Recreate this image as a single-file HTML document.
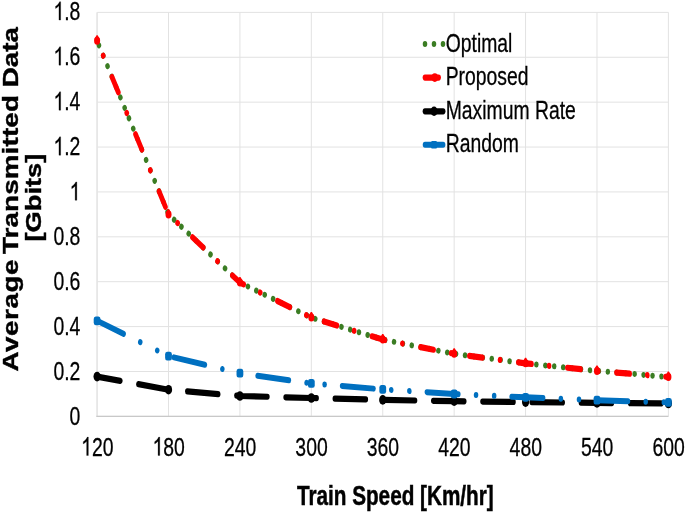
<!DOCTYPE html><html><head><meta charset="utf-8"><style>html,body{margin:0;padding:0;background:#fff}svg{display:block}text{font-family:"Liberation Sans",sans-serif}</style></head><body>
<svg width="685" height="513" viewBox="0 0 685 513">
<rect width="685" height="513" fill="#fff"/>
<path d="M97.10 12.40H668.40M97.10 57.28H668.40M97.10 102.17H668.40M97.10 147.05H668.40M97.10 191.93H668.40M97.10 236.82H668.40M97.10 281.70H668.40M97.10 326.58H668.40M97.10 371.47H668.40M97.10 416.35H668.40M97.10 12.40V416.35M168.51 12.40V416.35M239.92 12.40V416.35M311.34 12.40V416.35M382.75 12.40V416.35M454.16 12.40V416.35M525.57 12.40V416.35M596.99 12.40V416.35M668.40 12.40V416.35" stroke="#E2E2E2" stroke-width="1" fill="none"/>
<path d="M97.10 12.40V416.35" stroke="#E6E6E6" stroke-width="1.5" fill="none"/>
<path d="M96.30 416.35H668.40" stroke="#C8C8C8" stroke-width="1.1" fill="none"/>
<g transform="scale(0.755,1)">
<path d="M128.61 40.80 L223.20 214.40 L317.78 282.60 L412.37 317.60 L506.95 339.60 L601.54 353.80 L696.13 363.30 L790.71 370.90 L885.30 377.00" fill="none" stroke="#3B7D23" stroke-width="6.0" stroke-linecap="round" stroke-linejoin="round" stroke-dasharray="0.01 11.86" stroke-dashoffset="6.77"/>
<path d="M128.61 40.80 L223.20 214.40 L317.78 282.60 L412.37 317.60 L506.95 339.60 L601.54 353.80 L696.13 363.30 L790.71 370.90 L885.30 377.00" fill="none" stroke="#FF0000" stroke-width="6.2" stroke-linecap="round" stroke-linejoin="round" stroke-dasharray="17.5 23.4 0.01 24.3" stroke-dashoffset="24.0"/>
<circle cx="128.61" cy="40.80" r="4.0" fill="#FF0000"/>
<circle cx="223.20" cy="214.40" r="4.0" fill="#FF0000"/>
<circle cx="317.78" cy="282.60" r="4.0" fill="#FF0000"/>
<circle cx="412.37" cy="317.60" r="4.0" fill="#FF0000"/>
<circle cx="506.95" cy="339.60" r="4.0" fill="#FF0000"/>
<circle cx="601.54" cy="353.80" r="4.0" fill="#FF0000"/>
<circle cx="696.13" cy="363.30" r="4.0" fill="#FF0000"/>
<circle cx="790.71" cy="370.90" r="4.0" fill="#FF0000"/>
<circle cx="885.30" cy="377.00" r="4.0" fill="#FF0000"/>
<path d="M127.81 35.30 h1.6 l2.8 4 h-7.2 z" fill="#FF0000"/>
<path d="M222.40 208.90 h1.6 l2.8 4 h-7.2 z" fill="#FF0000"/>
<path d="M316.98 277.10 h1.6 l2.8 4 h-7.2 z" fill="#FF0000"/>
<path d="M411.57 312.10 h1.6 l2.8 4 h-7.2 z" fill="#FF0000"/>
<path d="M506.15 334.10 h1.6 l2.8 4 h-7.2 z" fill="#FF0000"/>
<path d="M600.74 348.30 h1.6 l2.8 4 h-7.2 z" fill="#FF0000"/>
<path d="M695.33 357.80 h1.6 l2.8 4 h-7.2 z" fill="#FF0000"/>
<path d="M789.91 365.40 h1.6 l2.8 4 h-7.2 z" fill="#FF0000"/>
<path d="M884.50 371.50 h1.6 l2.8 4 h-7.2 z" fill="#FF0000"/>
<path d="M128.61 376.60 L223.20 389.70 L317.78 396.00 L412.37 398.00 L506.95 399.90 L601.54 401.20 L696.13 402.10 L790.71 402.90 L885.30 403.50" fill="none" stroke="#000000" stroke-width="6.2" stroke-linecap="round" stroke-linejoin="round" stroke-dasharray="40.9 24.3" stroke-dashoffset="9.9"/>
<circle cx="128.61" cy="376.60" r="4.8" fill="#000000"/>
<circle cx="223.20" cy="389.70" r="4.8" fill="#000000"/>
<circle cx="317.78" cy="396.00" r="4.8" fill="#000000"/>
<circle cx="412.37" cy="398.00" r="4.8" fill="#000000"/>
<circle cx="506.95" cy="399.90" r="4.8" fill="#000000"/>
<circle cx="601.54" cy="401.20" r="4.8" fill="#000000"/>
<circle cx="696.13" cy="402.10" r="4.8" fill="#000000"/>
<circle cx="790.71" cy="402.90" r="4.8" fill="#000000"/>
<circle cx="885.30" cy="403.50" r="4.8" fill="#000000"/>
<path d="M128.61 320.80 L223.20 356.10 L317.78 373.20 L412.37 383.40 L506.95 389.40 L601.54 394.00 L696.13 397.30 L790.71 400.20 L885.30 402.40" fill="none" stroke="#0070C0" stroke-width="6.0" stroke-linecap="round" stroke-linejoin="round" stroke-dasharray="41.7 23.5 0.01 24 0.01 23.2" stroke-dashoffset="4.2"/>
<rect x="124.11" y="316.40" width="9" height="8.8" rx="2.6" fill="#0070C0"/>
<rect x="218.70" y="351.70" width="9" height="8.8" rx="2.6" fill="#0070C0"/>
<rect x="313.28" y="368.80" width="9" height="8.8" rx="2.6" fill="#0070C0"/>
<rect x="407.87" y="379.00" width="9" height="8.8" rx="2.6" fill="#0070C0"/>
<rect x="502.45" y="385.00" width="9" height="8.8" rx="2.6" fill="#0070C0"/>
<rect x="597.04" y="389.60" width="9" height="8.8" rx="2.6" fill="#0070C0"/>
<rect x="691.63" y="392.90" width="9" height="8.8" rx="2.6" fill="#0070C0"/>
<rect x="786.21" y="395.80" width="9" height="8.8" rx="2.6" fill="#0070C0"/>
<rect x="880.80" y="398.00" width="9" height="8.8" rx="2.6" fill="#0070C0"/>
<path d="M562.91 43.90H586.91" fill="none" stroke="#3B7D23" stroke-width="6.0" stroke-linecap="round" stroke-dasharray="0.01 11.9"/>
<path d="M562.91 77.60H586.91" fill="none" stroke="#FF0000" stroke-width="6.2" stroke-linecap="round" stroke-dasharray="18 23.7 0.01 23.7"/>
<circle cx="575.91" cy="77.6" r="4.3" fill="#FF0000"/>
<path d="M562.91 111.30H586.91" fill="none" stroke="#000000" stroke-width="6.2" stroke-linecap="round" stroke-dasharray="36 30"/>
<circle cx="574.91" cy="111.3" r="4.7" fill="#000000"/>
<path d="M562.91 144.70H586.91" fill="none" stroke="#0070C0" stroke-width="6.0" stroke-linecap="round" stroke-dasharray="37 24.5 0.01 24 0.01 24.5"/>
<rect x="570.91" y="140.90" width="8" height="7.6" rx="1.5" fill="#0070C0"/>
</g>
<g style="opacity:0.999">
<path transform="translate(53.43,20.10) scale(0.00948,-0.01250)" d="M763 0H583V1147Q518 1085 412.5 1023T223 930V1104Q374 1175 487 1276T647 1472H763Z" fill="#000" stroke="#000" stroke-width="24.0"/>
<text transform="translate(64.22,20.10) scale(0.758,1)" font-size="25.6" stroke="#000" stroke-width="0.3">.8</text>
<path transform="translate(53.43,65.15) scale(0.00948,-0.01250)" d="M763 0H583V1147Q518 1085 412.5 1023T223 930V1104Q374 1175 487 1276T647 1472H763Z" fill="#000" stroke="#000" stroke-width="24.0"/>
<text transform="translate(64.22,65.15) scale(0.758,1)" font-size="25.6" stroke="#000" stroke-width="0.3">.6</text>
<path transform="translate(53.43,110.21) scale(0.00948,-0.01250)" d="M763 0H583V1147Q518 1085 412.5 1023T223 930V1104Q374 1175 487 1276T647 1472H763Z" fill="#000" stroke="#000" stroke-width="24.0"/>
<text transform="translate(64.22,110.21) scale(0.758,1)" font-size="25.6" stroke="#000" stroke-width="0.3">.4</text>
<path transform="translate(53.43,155.26) scale(0.00948,-0.01250)" d="M763 0H583V1147Q518 1085 412.5 1023T223 930V1104Q374 1175 487 1276T647 1472H763Z" fill="#000" stroke="#000" stroke-width="24.0"/>
<text transform="translate(64.22,155.26) scale(0.758,1)" font-size="25.6" stroke="#000" stroke-width="0.3">.2</text>
<path transform="translate(69.61,200.31) scale(0.00948,-0.01250)" d="M763 0H583V1147Q518 1085 412.5 1023T223 930V1104Q374 1175 487 1276T647 1472H763Z" fill="#000" stroke="#000" stroke-width="24.0"/>
<text transform="translate(53.43,245.22) scale(0.758,1)" font-size="25.6" stroke="#000" stroke-width="0.3">0.8</text>
<text transform="translate(53.43,290.10) scale(0.758,1)" font-size="25.6" stroke="#000" stroke-width="0.3">0.6</text>
<text transform="translate(53.43,334.98) scale(0.758,1)" font-size="25.6" stroke="#000" stroke-width="0.3">0.4</text>
<text transform="translate(53.43,379.87) scale(0.758,1)" font-size="25.6" stroke="#000" stroke-width="0.3">0.2</text>
<text transform="translate(69.61,424.75) scale(0.758,1)" font-size="25.6" stroke="#000" stroke-width="0.3">0</text>
<path transform="translate(81.12,455.50) scale(0.00948,-0.01250)" d="M763 0H583V1147Q518 1085 412.5 1023T223 930V1104Q374 1175 487 1276T647 1472H763Z" fill="#000" stroke="#000" stroke-width="24.0"/>
<text transform="translate(91.91,455.50) scale(0.758,1)" font-size="25.6" stroke="#000" stroke-width="0.3">20</text>
<path transform="translate(152.53,455.50) scale(0.00948,-0.01250)" d="M763 0H583V1147Q518 1085 412.5 1023T223 930V1104Q374 1175 487 1276T647 1472H763Z" fill="#000" stroke="#000" stroke-width="24.0"/>
<text transform="translate(163.32,455.50) scale(0.758,1)" font-size="25.6" stroke="#000" stroke-width="0.3">80</text>
<text transform="translate(223.94,455.50) scale(0.758,1)" font-size="25.6" stroke="#000" stroke-width="0.3">240</text>
<text transform="translate(295.35,455.50) scale(0.758,1)" font-size="25.6" stroke="#000" stroke-width="0.3">300</text>
<text transform="translate(366.77,455.50) scale(0.758,1)" font-size="25.6" stroke="#000" stroke-width="0.3">360</text>
<text transform="translate(438.18,455.50) scale(0.758,1)" font-size="25.6" stroke="#000" stroke-width="0.3">420</text>
<text transform="translate(509.59,455.50) scale(0.758,1)" font-size="25.6" stroke="#000" stroke-width="0.3">480</text>
<text transform="translate(581.00,455.50) scale(0.758,1)" font-size="25.6" stroke="#000" stroke-width="0.3">540</text>
<text transform="translate(652.42,455.50) scale(0.758,1)" font-size="25.6" stroke="#000" stroke-width="0.3">600</text>
<text transform="translate(445.70,51.80) scale(0.7626,1)" font-size="25.4" text-anchor="start" stroke="#000" stroke-width="0.3">Optimal</text>
<text transform="translate(445.70,85.10) scale(0.7626,1)" font-size="25.4" text-anchor="start" stroke="#000" stroke-width="0.3">Proposed</text>
<text transform="translate(445.70,118.60) scale(0.7626,1)" font-size="25.4" text-anchor="start" stroke="#000" stroke-width="0.3">Maximum Rate</text>
<text transform="translate(445.70,152.20) scale(0.7626,1)" font-size="25.4" text-anchor="start" stroke="#000" stroke-width="0.3">Random</text>
<text transform="translate(395.30,505.30) scale(0.762,1)" font-size="27.2" text-anchor="middle" font-weight="bold" stroke="#000" stroke-width="0.5">Train Speed [Km/hr]</text>
<text transform="translate(18.20,27.00) scale(0.8,1) rotate(-90)" font-size="27.8" text-anchor="end" font-weight="bold" stroke="#000" stroke-width="0.5">Data</text>
<text transform="translate(18.20,95.00) scale(0.8,1) rotate(-90)" font-size="27.8" text-anchor="end" font-weight="bold" stroke="#000" stroke-width="0.5" letter-spacing="0.15">Transmitted</text>
<text transform="translate(18.20,259.00) scale(0.8,1) rotate(-90)" font-size="27.8" text-anchor="end" font-weight="bold" stroke="#000" stroke-width="0.5" letter-spacing="0.55">Average</text>
<text transform="translate(41.40,197.60) scale(0.8,1) rotate(-90)" font-size="27.3" text-anchor="middle" font-weight="bold" stroke="#000" stroke-width="0.5">[Gbits]</text>
</g>
</svg></body></html>
